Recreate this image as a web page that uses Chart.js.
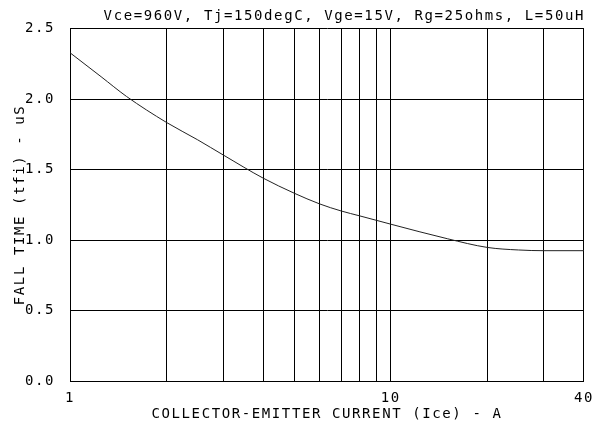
<!DOCTYPE html>
<html>
<head>
<meta charset="utf-8">
<script src="https://cdn.jsdelivr.net/npm/chart.js@4.4.1/dist/chart.umd.min.js"></script>
<style>
  html, body { margin: 0; padding: 0; background: #fff; }
  #wrap { width: 603px; height: 425px; }
</style>
</head>
<body>
<div id="wrap"><canvas id="fallChart"></canvas></div>
<script>
// fall time vs collector-emitter current
var currents  = [1, 1.25, 1.5, 2, 2.5, 3, 4, 5, 6, 7, 8, 9, 10, 15, 20, 25, 30, 40];
var fallTimes = [2.33, 2.16, 2.02, 1.835, 1.712, 1.605, 1.44, 1.333, 1.257, 1.207, 1.172, 1.141, 1.113, 1.01, 0.948, 0.93, 0.925, 0.925];

var xGridValues  = [1, 2, 3, 4, 5, 6, 7, 8, 9, 10, 20, 30, 40];
var xLabelValues = [1, 10, 40];
var yTickValues  = [0, 0.5, 1.0, 1.5, 2.0, 2.5];

var FONT = { family: "'DejaVu Sans Mono', 'Liberation Mono', monospace", size: 14 };

// the plotter font in the reference is wide, so spread the letters out
var spacing = {
    id: 'spacing',
    beforeLayout: function (chart) { chart.ctx.letterSpacing = '1.6px'; },
    beforeDraw: function (chart) { chart.ctx.letterSpacing = '1.6px'; }
};

var points = currents.map(function (c, i) { return { x: c, y: fallTimes[i] }; });

new Chart(document.getElementById('fallChart'), {
    type: 'line',
    data: {
        datasets: [{
            data: points,
            borderColor: '#222',
            borderWidth: 1,
            pointRadius: 0,
            fill: false,
            cubicInterpolationMode: 'monotone'
        }]
    },
    options: {
        responsive: true,
        maintainAspectRatio: false,
        animation: false,
        layout: { padding: { top: 0, right: 18, bottom: 0, left: 0 } },
        plugins: {
            legend: { display: false },
            tooltip: { enabled: false },
            title: {
                display: true,
                text: 'Vce=960V, Tj=150degC, Vge=15V, Rg=25ohms, L=50uH',
                align: 'end',
                color: '#000',
                font: { family: FONT.family, size: 14, weight: 'normal' },
                padding: { top: 8, bottom: 4 }
            }
        },
        scales: {
            x: {
                type: 'logarithmic',
                min: 1,
                max: 40,
                afterBuildTicks: function (scale) {
                    scale.ticks = xGridValues.map(function (v) { return { value: v }; });
                },
                afterFit: function (scale) { scale.height = 44; },
                border: { display: true, color: '#000', width: 1 },
                grid: { color: '#000', lineWidth: 1, drawTicks: false },
                ticks: {
                    autoSkip: false,
                    maxRotation: 0,
                    padding: 9,
                    color: '#000',
                    font: FONT,
                    callback: function (v) {
                        return xLabelValues.indexOf(v) >= 0 ? String(v) : '';
                    }
                },
                title: {
                    display: true,
                    text: 'COLLECTOR-EMITTER CURRENT (Ice) - A',
                    color: '#000',
                    font: FONT,
                    padding: { top: 0, bottom: 2 }
                }
            },
            y: {
                min: 0,
                max: 2.5,
                afterBuildTicks: function (scale) {
                    scale.ticks = yTickValues.map(function (v) { return { value: v }; });
                },
                afterFit: function (scale) { scale.width = 70; },
                border: { display: true, color: '#000', width: 1 },
                grid: { color: '#000', lineWidth: 1, drawTicks: false },
                ticks: {
                    padding: 15,
                    color: '#000',
                    font: FONT,
                    callback: function (v) { return Number(v).toFixed(1); }
                },
                title: {
                    display: true,
                    text: 'FALL TIME (tfi) - uS',
                    color: '#000',
                    font: FONT,
                    padding: { top: 12, bottom: 0 }
                }
            }
        }
    },
    plugins: [spacing]
});
</script>
</body>
</html>
